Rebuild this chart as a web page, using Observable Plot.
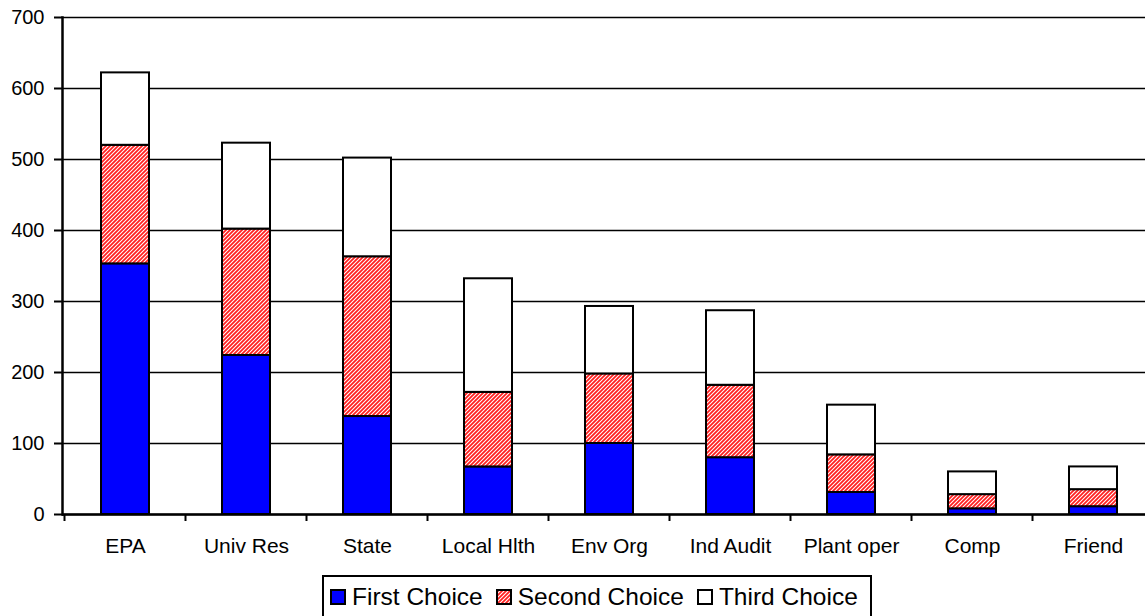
<!DOCTYPE html>
<html>
<head>
<meta charset="utf-8">
<script src="https://cdn.jsdelivr.net/npm/d3@7"></script>
<script src="https://cdn.jsdelivr.net/npm/@observablehq/plot@0.6"></script>
<style>
  html, body { margin: 0; padding: 0; background: #fff; overflow: hidden; }
  body { position: relative; width: 1145px; height: 616px; font-family: "Liberation Sans", Arial, sans-serif; color: #000; }
  #chart svg { display: block; }
  .legend { position: absolute; left: 322px; top: 575px; height: 43px; box-sizing: border-box;
            border: 2px solid #000; display: flex; align-items: center; padding: 0 12px 0 6px;
            font-size: 24.5px; white-space: nowrap; background: #fff; }
  .legend .item { display: flex; align-items: center; margin-right: 13px; }
  .legend .item:last-child { margin-right: 0; }
  .legend .sw { width: 16px; height: 16px; box-sizing: border-box; border: 2px solid #000; margin-right: 6px; }
</style>
</head>
<body>
<div id="chart"></div>
<div class="legend" id="legend"></div>
<script>
// Trusted information sources: number of respondents ranking each source 1st, 2nd or 3rd
const categories = ["EPA", "Univ Res", "State", "Local Hlth", "Env Org", "Ind Audit", "Plant oper", "Comp", "Friend"];
const seriesNames = ["First Choice", "Second Choice", "Third Choice"];
const firstChoice  = [353, 224, 138,  67, 100,  80, 31,  8, 11];
const secondChoice = [167, 178, 225, 105,  98, 102, 53, 20, 24];
const thirdChoice  = [102, 121, 139, 160,  95, 105, 70, 32, 32];
const yTicks = [0, 100, 200, 300, 400, 500, 600, 700];
const seriesFills = ["#0000FF", "url(#hatch)", "#FFFFFF"];

// Long-format table for stacking: first choice at the bottom of each column
const rows = [];
[firstChoice, secondChoice, thirdChoice].forEach((vals, s) =>
  vals.forEach((v, i) => rows.push({category: categories[i], series: seriesNames[s], value: v}))
);

// Small tick marks on the category axis, placed on the boundaries between categories
const boundaryTicks = Plot.ruleX(categories, {
  x: d => d,
  render(index, scales, values, dimensions) {
    const x = scales.x;
    const step = x.step();
    const bw = x.bandwidth();
    const y0 = dimensions.height - dimensions.marginBottom;
    const g = d3.create("svg:g");
    for (const c of categories) {
      const xe = x(c) + bw / 2 - step / 2;
      g.append("line")
        .attr("x1", xe).attr("x2", xe)
        .attr("y1", y0).attr("y2", y0 + 7)
        .attr("stroke", "#000").attr("stroke-width", 2);
    }
    return g.node();
  }
});

const chart = Plot.plot({
  width: 1145,
  height: 572,
  marginLeft: 62,
  marginRight: -12,
  marginTop: 17,
  marginBottom: 58,
  style: {fontFamily: "'Liberation Sans', Arial, sans-serif", color: "#000", background: "#fff", overflow: "hidden"},
  x: {domain: categories, paddingInner: 0.6, paddingOuter: 0.3, label: null},
  y: {domain: [0, 700], label: null},
  color: {domain: seriesNames, range: seriesFills},
  marks: [
    Plot.gridY({ticks: yTicks, stroke: "#000", strokeOpacity: 1, strokeWidth: 1.6}),
    Plot.barY(rows, Plot.stackY({
      x: "category", y: "value", z: "series", fill: "series",
      stroke: "#000", strokeWidth: 2, insetLeft: 0, insetRight: 0
    })),
    Plot.frame({anchor: "left", stroke: "#000", strokeWidth: 2.5}),
    Plot.ruleY([0], {stroke: "#000", strokeWidth: 2.5}),
    boundaryTicks,
    Plot.axisY({ticks: yTicks, tickSize: 8, tickPadding: 10, fontSize: 20, strokeWidth: 2, tickFormat: d => String(d), label: null}),
    Plot.axisX({tickSize: 0, tickPadding: 24, fontSize: 21, label: null})
  ]
});

// Diagonal red hatch used for the second-choice segments
const defs = d3.select(chart).insert("defs", ":first-child");
const pat = defs.append("pattern")
  .attr("id", "hatch").attr("patternUnits", "userSpaceOnUse")
  .attr("width", 4).attr("height", 4);
pat.append("rect").attr("width", 4).attr("height", 4).attr("fill", "#fff");
pat.append("path")
  .attr("d", "M-1,1 l2,-2 M0,4 l4,-4 M3,5 l2,-2")
  .attr("stroke", "#FF2020").attr("stroke-width", 1.8);

document.getElementById("chart").appendChild(chart);

// Legend
const legend = d3.select("#legend");
seriesNames.forEach((name, i) => {
  const item = legend.append("div").attr("class", "item");
  item.append("div").attr("class", "sw").style("background", seriesFills[i]);
  item.append("span").text(name);
});
// The legend swatch for the hatch needs its own small SVG
legend.select(".item:nth-child(2) .sw").style("background", null).html(
  '<svg width="12" height="12" style="display:block"><rect width="12" height="12" fill="url(#hatch)"/></svg>'
);
</script>
</body>
</html>
